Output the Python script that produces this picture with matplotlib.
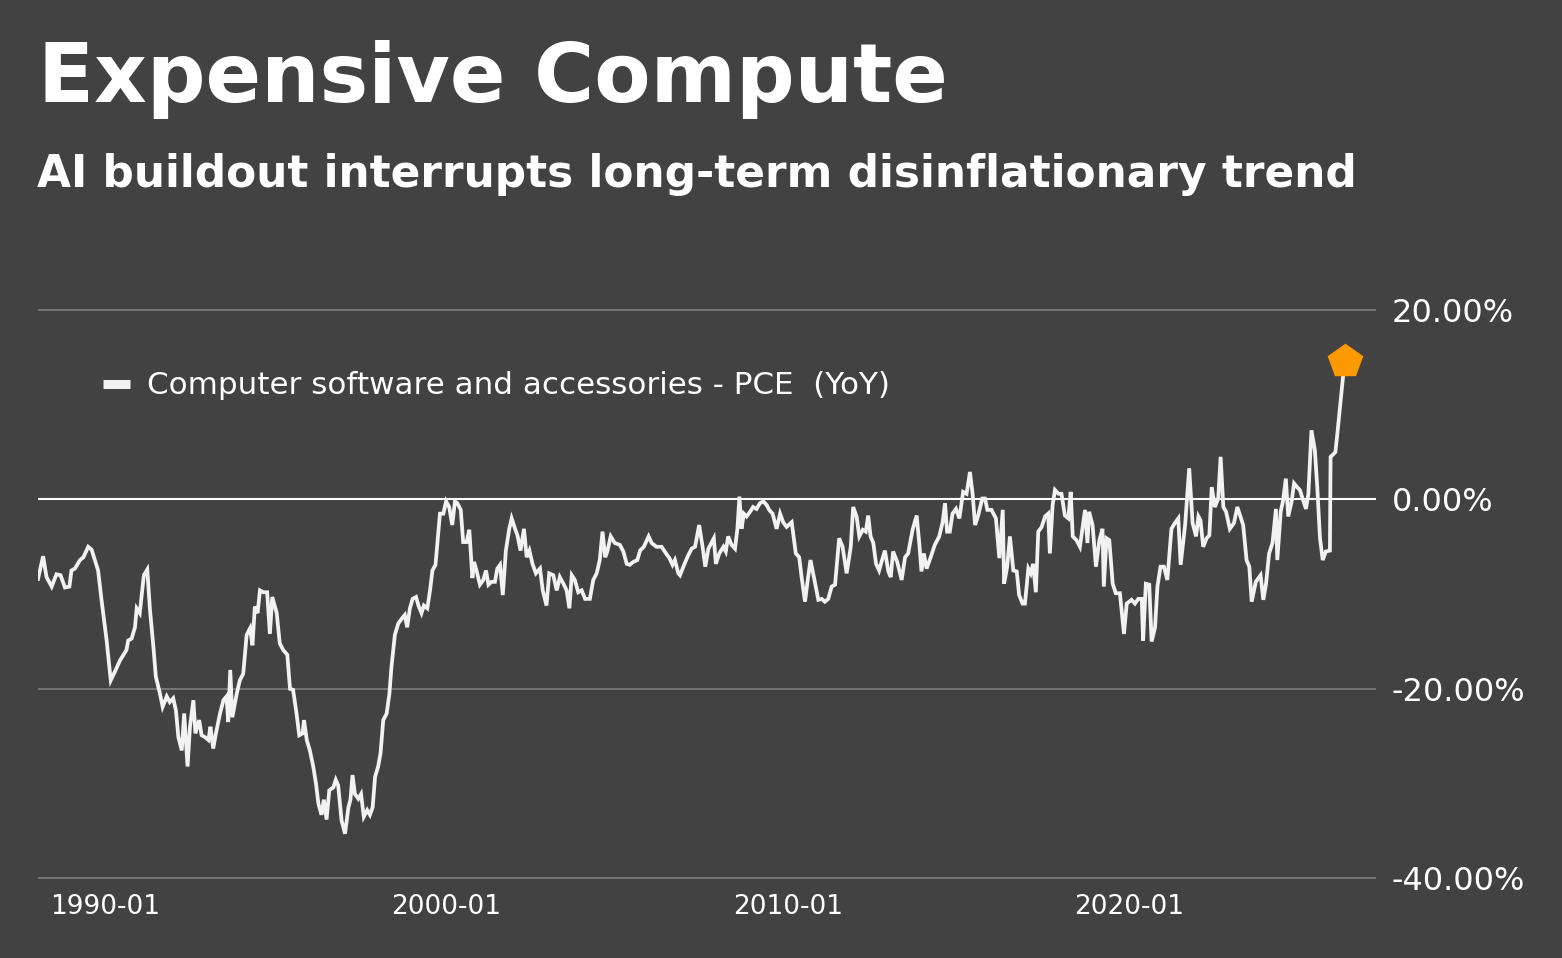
import matplotlib
matplotlib.use("Agg")
import matplotlib.pyplot as plt
import numpy as np

# ---------------- data (decimal year, YoY %) ----------------
years = [
    1988.04, 1988.19, 1988.29, 1988.44, 1988.58, 1988.70, 1988.83, 1988.96, 1989.02, 1989.12,
    1989.27, 1989.37, 1989.51, 1989.61, 1989.80, 1989.90, 1990.05, 1990.17, 1990.29, 1990.44,
    1990.63, 1990.68, 1990.78, 1990.88, 1990.93, 1991.02, 1991.14, 1991.24, 1991.32, 1991.42,
    1991.49, 1991.61, 1991.69, 1991.81, 1991.90, 1992.00, 1992.08, 1992.15, 1992.25, 1992.32,
    1992.42, 1992.49, 1992.59, 1992.65, 1992.76, 1992.83, 1992.93, 1993.03, 1993.09, 1993.17,
    1993.25, 1993.37, 1993.47, 1993.56, 1993.61, 1993.67, 1993.73, 1993.86, 1993.95, 1994.05,
    1994.15, 1994.25, 1994.32, 1994.39, 1994.47, 1994.54, 1994.64, 1994.75, 1994.83, 1994.90,
    1995.03, 1995.12, 1995.22, 1995.34, 1995.42, 1995.51, 1995.61, 1995.69, 1995.79, 1995.83,
    1995.91, 1996.00, 1996.10, 1996.18, 1996.25, 1996.34, 1996.41, 1996.49, 1996.57, 1996.69,
    1996.76, 1996.83, 1996.93, 1997.03, 1997.13, 1997.19, 1997.25, 1997.32, 1997.42, 1997.50,
    1997.58, 1997.68, 1997.76, 1997.84, 1997.91, 1998.00, 1998.07, 1998.15, 1998.25, 1998.33,
    1998.39, 1998.49, 1998.59, 1998.69, 1998.78, 1998.85, 1998.93, 1999.01, 1999.11, 1999.18,
    1999.27, 1999.34, 1999.44, 1999.52, 1999.59, 1999.68, 1999.76, 1999.81, 1999.91, 1999.99,
    2000.08, 2000.17, 2000.25, 2000.32, 2000.42, 2000.49, 2000.59, 2000.67, 2000.76, 2000.81,
    2000.88, 2000.98, 2001.08, 2001.16, 2001.23, 2001.32, 2001.42, 2001.49, 2001.57, 2001.65,
    2001.74, 2001.84, 2001.91, 2002.01, 2002.08, 2002.17, 2002.27, 2002.35, 2002.43, 2002.52,
    2002.62, 2002.74, 2002.82, 2002.93, 2003.01, 2003.13, 2003.23, 2003.32, 2003.44, 2003.52,
    2003.60, 2003.67, 2003.76, 2003.86, 2003.96, 2004.06, 2004.20, 2004.30, 2004.40, 2004.49,
    2004.57, 2004.65, 2004.71, 2004.81, 2004.93, 2005.08, 2005.18, 2005.28, 2005.37, 2005.47,
    2005.59, 2005.67, 2005.78, 2005.92, 2006.01, 2006.15, 2006.30, 2006.43, 2006.53, 2006.62,
    2006.69, 2006.79, 2006.84, 2006.96, 2007.08, 2007.18, 2007.28, 2007.40, 2007.50, 2007.58,
    2007.67, 2007.83, 2007.89, 2007.99, 2008.11, 2008.18, 2008.25, 2008.35, 2008.45, 2008.52,
    2008.58, 2008.64, 2008.71, 2008.79, 2008.89, 2008.98, 2009.08, 2009.18, 2009.28, 2009.38,
    2009.45, 2009.55, 2009.67, 2009.77, 2009.86, 2009.96, 2010.11, 2010.23, 2010.33, 2010.40,
    2010.50, 2010.58, 2010.66, 2010.76, 2010.89, 2010.99, 2011.08, 2011.18, 2011.28, 2011.38,
    2011.50, 2011.60, 2011.72, 2011.84, 2011.91, 2012.01, 2012.09, 2012.19, 2012.28, 2012.35,
    2012.42, 2012.50, 2012.58, 2012.67, 2012.74, 2012.84, 2012.94, 2013.01, 2013.08, 2013.20,
    2013.33, 2013.43, 2013.52, 2013.65, 2013.77, 2013.85, 2013.91, 2013.98, 2014.06, 2014.18,
    2014.30, 2014.43, 2014.53, 2014.60, 2014.66, 2014.74, 2014.82, 2014.92, 2015.02, 2015.13,
    2015.23, 2015.33, 2015.41, 2015.48, 2015.57, 2015.69, 2015.77, 2015.84, 2015.96, 2016.09,
    2016.19, 2016.29, 2016.33, 2016.42, 2016.50, 2016.60, 2016.70, 2016.77, 2016.87, 2016.94,
    2017.04, 2017.11, 2017.18, 2017.26, 2017.33, 2017.43, 2017.53, 2017.62, 2017.67, 2017.75,
    2017.82, 2017.92, 2018.01, 2018.11, 2018.21, 2018.28, 2018.34, 2018.45, 2018.55, 2018.65,
    2018.70, 2018.77, 2018.82, 2018.92, 2019.02, 2019.12, 2019.21, 2019.25, 2019.33, 2019.41,
    2019.51, 2019.60, 2019.72, 2019.84, 2019.92, 2020.06, 2020.16, 2020.26, 2020.36, 2020.40,
    2020.48, 2020.58, 2020.65, 2020.75, 2020.82, 2020.91, 2021.01, 2021.11, 2021.23, 2021.33,
    2021.43, 2021.50, 2021.63, 2021.75, 2021.85, 2021.95, 2022.02, 2022.08, 2022.16, 2022.26,
    2022.34, 2022.41, 2022.50, 2022.60, 2022.67, 2022.75, 2022.83, 2022.94, 2023.06, 2023.16,
    2023.24, 2023.33, 2023.43, 2023.51, 2023.58, 2023.70, 2023.84, 2023.92, 2024.00, 2024.09,
    2024.19, 2024.29, 2024.33, 2024.43, 2024.50, 2024.58, 2024.65, 2024.75, 2024.82, 2024.91,
    2024.99, 2025.07, 2025.17, 2025.24, 2025.33, 2025.43, 2025.50, 2025.58, 2025.66, 2025.75,
    2025.87, 2025.89, 2025.95, 2026.03, 2026.09, 2026.30,
]
yoy = [
    -8.4, -6.0, -8.2, -9.2, -7.9, -8.0, -9.3, -9.2, -7.5, -7.3,
    -6.4, -6.1, -5.0, -5.3, -7.5, -10.6, -14.9, -19.1, -18.2, -17.0,
    -15.9, -14.9, -14.7, -13.5, -11.5, -12.0, -8.0, -7.4, -11.7, -15.6,
    -18.7, -20.5, -21.9, -20.8, -21.4, -21.0, -22.3, -25.1, -26.5, -22.6,
    -28.2, -24.0, -21.2, -24.7, -23.3, -24.9, -25.1, -25.4, -24.0, -26.3,
    -24.7, -22.6, -21.2, -20.8, -23.5, -18.0, -23.0, -20.5, -19.1, -18.4,
    -14.3, -13.6, -15.4, -11.3, -12.0, -9.6, -9.8, -9.8, -14.2, -10.3,
    -12.0, -15.2, -15.9, -16.4, -20.0, -20.1, -22.6, -24.9, -24.7, -23.3,
    -25.4, -26.5, -28.2, -30.0, -32.1, -33.3, -31.7, -33.8, -30.7, -30.4,
    -29.6, -30.2, -33.9, -35.3, -32.5, -31.7, -29.1, -31.1, -31.6, -31.1,
    -33.5, -32.8, -33.3, -32.5, -29.3, -28.2, -26.8, -23.3, -22.6, -20.5,
    -17.7, -14.3, -13.1, -12.6, -12.2, -13.5, -11.5, -10.5, -10.3, -11.2,
    -12.0, -11.2, -11.5, -9.6, -7.5, -6.9, -3.6, -1.5, -1.5, -0.2,
    -0.8, -2.7, -0.2, -0.4, -1.1, -4.5, -4.5, -3.2, -8.3, -6.6,
    -7.5, -9.0, -8.5, -7.5, -9.0, -8.7, -8.7, -7.3, -6.9, -10.1,
    -5.4, -3.1, -2.0, -3.1, -3.8, -5.4, -3.1, -6.1, -5.4, -6.8,
    -7.8, -7.3, -9.6, -11.2, -7.8, -8.0, -9.6, -8.2, -9.0, -9.6,
    -11.5, -8.0, -8.5, -9.8, -9.6, -10.5, -10.5, -8.5, -7.8, -6.4,
    -3.4, -6.1, -5.5, -3.9, -4.6, -4.8, -5.5, -6.8, -6.9, -6.6,
    -6.4, -5.4, -5.0, -3.9, -4.6, -5.0, -5.0, -5.7, -6.2, -6.9,
    -6.4, -7.8, -8.0, -6.9, -5.9, -5.2, -5.0, -2.7, -5.0, -7.1,
    -5.2, -4.1, -6.8, -5.7, -5.0, -5.5, -3.9, -4.8, -5.2, -3.1,
    0.3, -3.1, -1.5, -1.8, -1.3, -0.8, -1.0, -0.4, -0.2, -0.6,
    -1.1, -1.5, -3.1, -1.5, -2.4, -2.9, -2.4, -5.7, -6.1, -8.2,
    -10.8, -8.5, -6.4, -8.2, -10.6, -10.5, -10.8, -10.5, -9.2, -9.0,
    -4.1, -5.0, -7.8, -5.0, -0.8, -1.8, -3.9, -3.2, -3.4, -1.7,
    -3.9, -4.6, -6.8, -7.5, -6.6, -5.4, -7.6, -8.2, -5.5, -6.6,
    -8.5, -6.1, -5.7, -3.2, -1.7, -4.8, -7.6, -5.7, -7.3, -6.1,
    -4.8, -3.9, -2.4, -0.4, -3.4, -3.4, -1.5, -1.0, -2.0, 0.8,
    0.6, 2.9, 0.5, -2.7, -1.7, 0.1, 0.1, -1.1, -1.1, -2.0,
    -6.2, -1.1, -8.9, -7.1, -3.9, -7.5, -7.6, -10.1, -11.0, -11.0,
    -7.3, -7.8, -6.8, -9.8, -3.4, -2.9, -1.8, -1.5, -5.7, -0.6,
    1.0, 0.6, 0.6, -1.7, -2.0, 0.8, -3.9, -4.3, -5.0, -2.4,
    -1.1, -4.6, -1.3, -2.7, -7.1, -4.3, -3.1, -9.2, -4.1, -4.3,
    -8.9, -9.9, -9.9, -14.2, -11.0, -10.6, -11.0, -10.5, -10.5, -14.9,
    -8.9, -9.0, -15.0, -13.5, -9.2, -7.1, -7.1, -8.5, -3.1, -2.5,
    -2.0, -6.9, -2.7, 3.3, -2.5, -3.9, -1.8, -2.2, -5.0, -4.1,
    -3.8, 1.3, -0.8, 0.1, 4.5, -0.8, -1.3, -3.1, -2.5, -0.8,
    -1.7, -2.7, -6.4, -7.1, -10.8, -8.7, -8.0, -10.6, -8.9, -5.7,
    -4.6, -1.0, -6.4, -1.3, -0.1, 2.2, -1.8, -0.2, 1.7, 1.3,
    1.0, 0.1, -1.0, 0.6, 7.3, 5.2, 1.3, -4.1, -6.4, -5.5,
    -5.4, 4.5, 4.7, 5.0, 7.0, 14.6,
]
tick_years = [1990, 2000, 2010, 2020]
tick_labels = ["1990-01", "2000-01", "2010-01", "2020-01"]
y_ticks = [-40, -20, 0, 20]
y_tick_labels = ["-40.00%", "-20.00%", "0.00%", "20.00%"]

title = "Expensive Compute"
subtitle = "AI buildout interrupts long-term disinflationary trend"
series_name = "Computer software and accessories - PCE  (YoY)"

# ---------------- style ----------------
BG = "#424242"
LINE = "#f2f2f2"
W, H = 1562, 958
plt.rcParams["font.family"] = ["DejaVu Sans"]

fig = plt.figure(figsize=(W / 100, H / 100), dpi=100, facecolor=BG)

def fx(px):
    return px / W

def fy(py):
    return 1 - py / H

ax_left, ax_right = 38, 1376
ax_top, ax_bottom = 305.3, 883.0
ax = fig.add_axes([fx(ax_left), fy(ax_bottom), (ax_right - ax_left) / W, (ax_bottom - ax_top) / H])
ax.set_facecolor(BG)

ax.set_xlim(1988.04, 2027.22)
ax.set_ylim(-40.5, 20.5)

for yv in y_ticks:
    if yv == 0:
        ax.axhline(yv, color="#ffffff", lw=1.5, zorder=1)
    else:
        ax.axhline(yv, color="#7a7a7a", lw=1.3, zorder=1)

ax.plot(years, yoy, color=LINE, lw=2.7, solid_joinstyle="miter", zorder=3)
ax.plot([years[-1]], [yoy[-1]], marker="p", ms=25, color="#ff9900", mec="#ff9900", zorder=4)

for s in ax.spines.values():
    s.set_visible(False)

ax.yaxis.tick_right()
ax.set_yticks(y_ticks)
ax.set_yticklabels(y_tick_labels)
ax.tick_params(axis="y", length=0, pad=11.5, labelsize=23, labelcolor="#ffffff")
for lab in ax.get_yticklabels():
    lab.set_horizontalalignment("left")

ax.set_xticks(tick_years)
ax.set_xticklabels(tick_labels)
ax.tick_params(axis="x", length=0, pad=8, labelsize=19, labelcolor="#ffffff")

# titles
fig.text(fx(38), fy(102), title, color="#ffffff", fontsize=59, fontweight="bold",
         ha="left", va="baseline")
fig.text(fx(37), fy(187), subtitle, color="#ffffff", fontsize=31.6, fontweight="bold",
         ha="left", va="baseline")

# legend
fig.add_artist(plt.Line2D([fx(103), fx(130)], [fy(383.5), fy(383.5)], color=LINE,
                          lw=6.5, solid_capstyle="butt", transform=fig.transFigure))
fig.text(fx(147), fy(393.5), series_name, color="#ffffff", fontsize=22.3,
         ha="left", va="baseline")

fig.savefig("out.png", dpi=100, facecolor=BG)
